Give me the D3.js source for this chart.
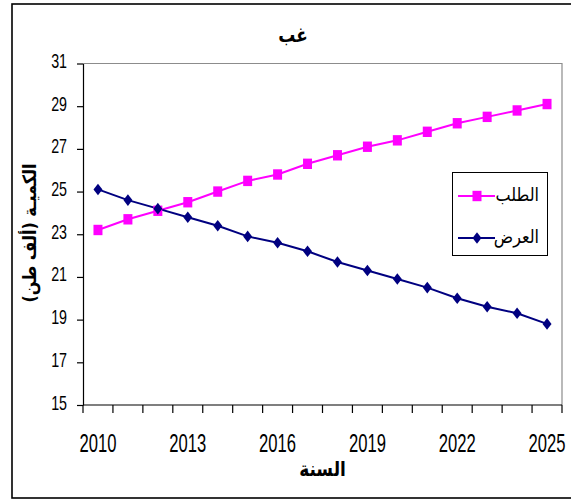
<!DOCTYPE html>
<html>
<head>
<meta charset="utf-8">
<script src="https://cdn.jsdelivr.net/npm/d3@7"></script>
<style>
  html, body { margin: 0; padding: 0; background: #fff; }
  svg { display: block; }
  .num { font-family: "Liberation Sans", Arial, sans-serif; fill: #000; }
  .ar  { font-family: "DejaVu Sans", sans-serif; fill: #000; }
</style>
</head>
<body>
<svg id="chart" width="571" height="500"></svg>
<script>
// Years on the category axis
const years = [2010, 2011, 2012, 2013, 2014, 2015, 2016, 2017,
               2018, 2019, 2020, 2021, 2022, 2023, 2024, 2025];
// Demand (الطلب), thousand tonnes
const demand = [23.2, 23.7, 24.1, 24.5, 25.0, 25.5, 25.8, 26.3,
                26.7, 27.1, 27.4, 27.8, 28.2, 28.5, 28.8, 29.1];
// Supply (العرض), thousand tonnes
const supply = [25.1, 24.6, 24.2, 23.8, 23.4, 22.9, 22.6, 22.2,
                21.7, 21.3, 20.9, 20.5, 20.0, 19.6, 19.3, 18.8];
// Axis labels
const yTicks = [15, 17, 19, 21, 23, 25, 27, 29, 31];
const xLabels = [2010, 2013, 2016, 2019, 2022, 2025];
const seriesNames = ["الطلب", "العرض"];
const titleText = "غب";
const xTitle = "السنة";
const yTitle = "الكميـة (ألف طن)";

const svg = d3.select("#chart");
const plot = { left: 83, right: 562, top: 63.5, bottom: 405 };

const x = d3.scaleBand().domain(years).range([plot.left, plot.right]);
const y = d3.scaleLinear().domain([15, 31]).range([plot.bottom, plot.top]);
const cx = d => x(d) + x.bandwidth() / 2;

// Outer chart frame (right edge runs past the page)
svg.append("rect")
  .attr("x", 12).attr("y", 4).attr("width", 570).attr("height", 494)
  .attr("fill", "none").attr("stroke", "#000").attr("stroke-width", 1.6);

// Plot area frame: grey top and right edges
svg.append("path")
  .attr("d", `M${plot.left},${plot.top}H${plot.right}V${plot.bottom}`)
  .attr("fill", "none").attr("stroke", "#8c8c8c").attr("stroke-width", 1.2);

// Y axis with outward ticks
svg.append("g")
  .attr("transform", `translate(${plot.left},0)`)
  .call(d3.axisLeft(y).tickValues(yTicks).tickSize(6).tickSizeOuter(0).tickFormat(""))
  .call(g => g.select(".domain").attr("stroke", "#000").attr("stroke-width", 1.2))
  .call(g => g.selectAll(".tick line").attr("stroke", "#000").attr("stroke-width", 1.2));

// Y tick labels (narrow, tall figures)
svg.append("g").selectAll("text").data(yTicks).join("text")
  .attr("class", "num")
  .attr("font-size", 21)
  .attr("text-anchor", "end")
  .attr("transform", d => `translate(67,${y(d) + 4.5}) scale(0.68,1)`)
  .text(d => d);

// X axis line and tick marks at category boundaries
svg.append("line")
  .attr("x1", plot.left).attr("x2", plot.right)
  .attr("y1", plot.bottom).attr("y2", plot.bottom)
  .attr("stroke", "#000").attr("stroke-width", 1.2);
const bounds = years.map(d => x(d)).concat([x.range()[1]]);
svg.append("g").selectAll("line").data(bounds).join("line")
  .attr("x1", d => d).attr("x2", d => d)
  .attr("y1", plot.bottom).attr("y2", plot.bottom + 8)
  .attr("stroke", "#000").attr("stroke-width", 1.2);

// X tick labels
svg.append("g").selectAll("text").data(xLabels).join("text")
  .attr("class", "num")
  .attr("font-size", 25)
  .attr("text-anchor", "middle")
  .attr("transform", d => `translate(${cx(d)},452) scale(0.665,1)`)
  .text(d => d);

// Series lines and markers
const line = d3.line().x((d, i) => cx(years[i])).y(d => y(d));

svg.append("path").datum(demand)
  .attr("d", line).attr("fill", "none")
  .attr("stroke", "#ff00ff").attr("stroke-width", 2);
svg.append("path").datum(supply)
  .attr("d", line).attr("fill", "none")
  .attr("stroke", "#000080").attr("stroke-width", 2);

const squarePath = "M-4.5,-5.2H4.5V5.2H-4.5Z";
const diamondPath = "M0,-5.8L4.5,0L0,5.8L-4.5,0Z";

svg.append("g").selectAll("path").data(demand).join("path")
  .attr("d", squarePath)
  .attr("transform", (d, i) => `translate(${cx(years[i])},${y(d)})`)
  .attr("fill", "#ff00ff");
svg.append("g").selectAll("path").data(supply).join("path")
  .attr("d", diamondPath)
  .attr("transform", (d, i) => `translate(${cx(years[i])},${y(d)})`)
  .attr("fill", "#000080");

// Legend
const legend = svg.append("g");
legend.append("rect")
  .attr("x", 452.5).attr("y", 172.5).attr("width", 95).attr("height", 83)
  .attr("fill", "#fff").attr("stroke", "#000").attr("stroke-width", 1);
const legendRows = [
  { name: seriesNames[0], color: "#ff00ff", marker: squarePath, y: 196 },
  { name: seriesNames[1], color: "#000080", marker: diamondPath, y: 238 }
];
legendRows.forEach(r => {
  legend.append("line")
    .attr("x1", 458).attr("x2", 495).attr("y1", r.y).attr("y2", r.y)
    .attr("stroke", r.color).attr("stroke-width", 2);
  legend.append("path").attr("d", r.marker)
    .attr("transform", `translate(477,${r.y})`).attr("fill", r.color);
  legend.append("text").attr("class", "ar")
    .attr("transform", `translate(539,${r.y + 5}) scale(1,1.15)`)
    .attr("font-size", 16).attr("text-anchor", "start")
    .attr("direction", "rtl")
    .text(r.name);
});

// Title
svg.append("text").attr("class", "ar")
  .attr("transform", "translate(293,42) scale(1,1.2)")
  .attr("font-size", 17).attr("font-weight", "bold")
  .attr("text-anchor", "middle")
  .text(titleText);

// X axis title
svg.append("text").attr("class", "ar")
  .attr("transform", "translate(322.5,476) scale(1,1.2)")
  .attr("font-size", 17).attr("font-weight", "bold")
  .attr("text-anchor", "middle")
  .text(xTitle);

// Y axis title, rotated
svg.append("text").attr("class", "ar")
  .attr("transform", "translate(36,233) rotate(-90) scale(1,1.15)")
  .attr("font-size", 16).attr("font-weight", "bold")
  .attr("text-anchor", "middle")
  .text(yTitle);
</script>
</body>
</html>
